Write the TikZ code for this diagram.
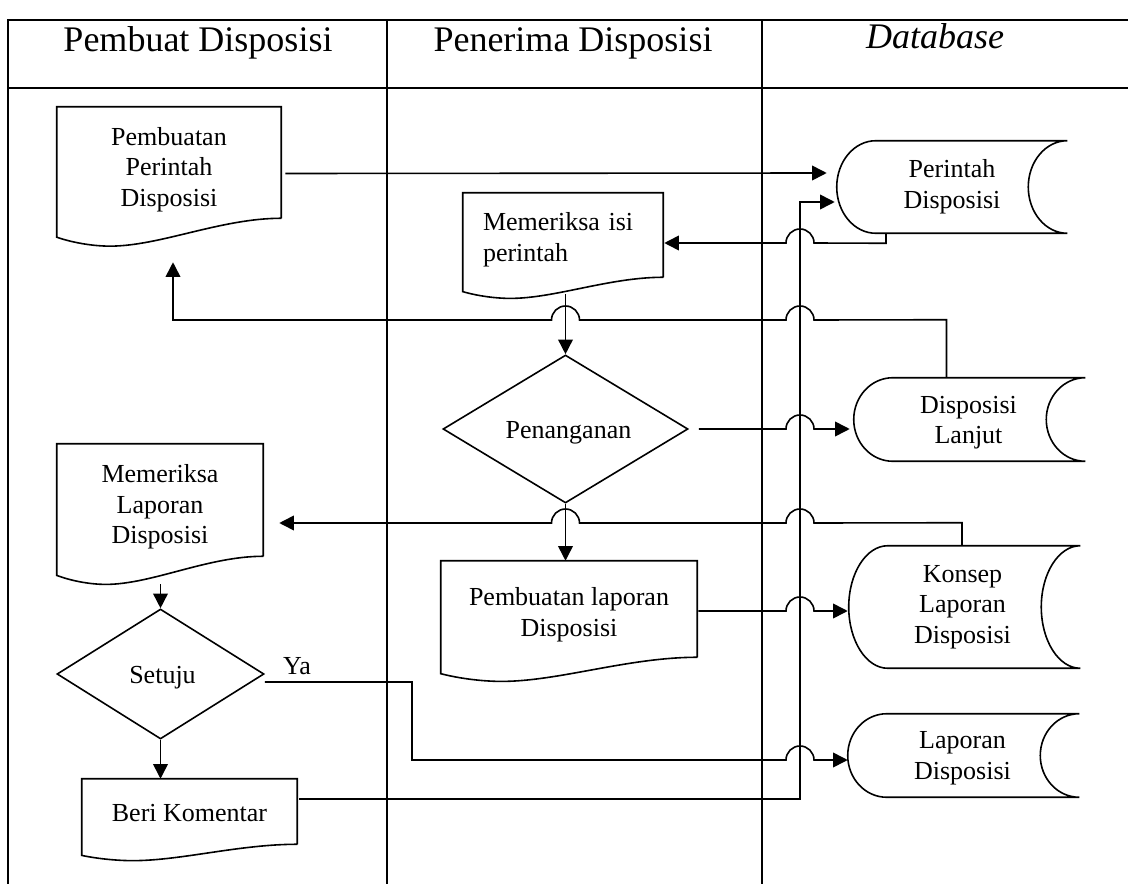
\documentclass[tikz,border=0pt]{standalone}
\usepackage{fontspec}
\setmainfont{Liberation Serif}
\usetikzlibrary{arrows.meta,calc,shapes.geometric}

\newcommand\bodyfont{\fontsize{19.5}{23}\selectfont}
\newcommand\headfont{\fontsize{27}{30}\selectfont}

% document symbol: flat top, wavy bottom hanging below the node box
\newcommand\docoutline[1]{%
  \draw[outline] let \p1=(#1.south west), \p2=(#1.north east),
      \n1={\x2-\x1}, \n2={\y2-\y1} in
    (\x2,\y1) -- (\x2,\y2) -- (\x1,\y2) -- (\x1,{\y1-0.17*\n2})
    .. controls ({\x1+0.08*\n1},{\y1-0.225*\n2}) and ({\x1+0.17*\n1},{\y1-0.25*\n2})
    .. ({\x1+0.237*\n1},{\y1-0.25*\n2})
    .. controls ({\x1+0.46*\n1},{\y1-0.25*\n2}) and ({\x1+0.73*\n1},\y1)
    .. (\x2,\y1);}

% stored-data symbol: convex left side, concave right side
\newcommand\storeoutline[1]{%
  \draw[outline] let \p1=(#1.south west), \p2=(#1.north east),
      \n1={(\y2-\y1)/2} in
    ({\x1+29.25pt},\y2) -- (\x2,\y2)
    arc[start angle=90,end angle=270,x radius=29.25pt,y radius={\n1*1pt}]
    -- ({\x1+29.25pt},\y1)
    arc[start angle=270,end angle=90,x radius=29.25pt,y radius={\n1*1pt}] -- cycle;}

\tikzset{
  lane/.style={line width=0.9pt},
  outline/.style={line width=1.2pt},
  conn/.style={line width=1.2pt,-{Triangle[length=11pt,width=11pt]}},
  dims/.style 2 args={minimum width=#1*0.75pt,minimum height=#2*0.75pt},
  head/.style={font=\headfont,inner sep=0pt},
  box/.style={inner sep=0pt},
  decision/.style={shape=diamond,draw,outline,inner sep=0pt,aspect=1.6},
  txt/.style={inner sep=0pt,align=center,font=\bodyfont},
}
\def\jr{10.5pt}

\begin{document}
\begin{tikzpicture}[x=0.75pt,y=-0.75pt]
\useasboundingbox (0,0) rectangle (1128,884);

% swimlanes
\draw[lane] (1128,20) -- (8,20) -- (8,884);
\draw[lane] (8,88) -- (1128,88);
\draw[lane] (387,20) -- (387,884);
\draw[lane] (762,20) -- (762,884);

\node[head] (h1) at (198,43) {Pembuat Disposisi};
\node[head] (h2) at (573,43) {Penerima Disposisi};
\node[head,font=\headfont\itshape] (h3) at (935,36) {Database};

% documents
\node[box,dims={224}{111}] (pp) at (169,162.5) {};
\node[box,dims={200}{84}] (mi) at (563,235) {};
\node[box,dims={206}{112}] (ml) at (160,500) {};
\node[box,dims={256}{96}] (pl) at (569,609) {};
\node[box,dims={215}{65}] (bk) at (189.5,811.5) {};
\docoutline{pp}
\docoutline{mi}
\docoutline{ml}
\docoutline{pl}
\docoutline{bk}
\node[txt] (pp-t) at ($(pp)+(0,7)$) {Pembuatan\\Perintah\\Disposisi};
\node[txt,align=left,text width=120pt] (mi-t) at ($(mi)+(0,5)$) {Memeriksa isi\\perintah};
\node[txt] (ml-t) at ($(ml)+(0,7)$) {Memeriksa\\Laporan\\Disposisi};
\node[txt] (pl-t) at ($(pl)+(0,6)$) {Pembuatan laporan\\Disposisi};
\node[txt] (bk-t) at ($(bk)+(0,2)$) {Beri Komentar};

% stored data
\node[box,dims={230}{92}] (pd) at (952,187) {};
\node[box,dims={231}{83}] (dl) at (969.5,419.5) {};
\node[box,dims={231}{122}] (kl) at (964.5,607) {};
\node[box,dims={231}{83}] (ld) at (963.5,755.5) {};
\storeoutline{pd}
\storeoutline{dl}
\storeoutline{kl}
\storeoutline{ld}
\node[txt] (pd-t) at ($(pd)+(0,0)$) {Perintah\\Disposisi};
\node[txt] (dl-t) at ($(dl)+(-1,3)$) {Disposisi\\Lanjut};
\node[txt] (kl-t) at ($(kl)+(-2,0)$) {Konsep\\Laporan\\Disposisi};
\node[txt] (ld-t) at ($(ld)+(-1,3)$) {Laporan\\Disposisi};

% decisions
\node[decision,dims={245}{148}] (pen) at (565.5,429) {};
\node[decision,dims={207}{130}] (st) at (160.5,674) {};
\node[txt] (pen-t) at ($(pen)+(3,4)$) {Penanganan};
\node[txt] (st-t) at ($(st)+(2,4)$) {Setuju};

% flows
\draw[conn] ($(pp.east)+(4,11)$) -- ($(pd.west)+(-10,-14)$);
\coordinate (kv) at (800,202);
\draw[conn] ($(bk.east)+(2,-12.5)$) -| (kv) -- ($(pd.west)+(-2,15)$);
\draw[conn] ($(pd.south)+(-66,0)$) -- ++(0,10) -- (814,243)
  arc[start angle=0,end angle=180,radius=\jr] -- ($(mi.east)+(1,8)$);
\draw[conn] ($(pen.north|-mi.south)+(0,17)$) -- (pen.north);
\draw[conn] ($(dl.north)+(-23,0)$) -- ++(0,-58) -- (814,320)
  arc[start angle=0,end angle=180,radius=\jr] -- (579.5,320)
  arc[start angle=0,end angle=180,radius=\jr] -- (173,320) -- ($(pp.south)+(4,44)$);
\draw[conn] ($(pen.east)+(10,0)$) -- (786,429)
  arc[start angle=180,end angle=0,radius=\jr] -- ($(dl.west)+(-4,9.5)$);
\draw[conn] (pen.south) -- (pen.south|-pl.north);
\draw[conn] ($(kl.north)+(-2.5,0)$) -- ++(0,-23) -- (814,523)
  arc[start angle=0,end angle=180,radius=\jr] -- (579.5,523)
  arc[start angle=0,end angle=180,radius=\jr] -- ($(ml.east)+(16,23)$);
\draw[conn] ($(pl.east)+(1,2)$) -- (786,611)
  arc[start angle=180,end angle=0,radius=\jr] -- ($(kl.west)+(-1,4)$);
\draw[conn] ($(st.north|-ml.south)+(0,28)$) -- (st.north);
\draw[conn] (st.south) -- (st.south|-bk.north);
\draw[conn] ($(st.east)+(0,8)$) -- (412,682) -- (412,760) -- (786,760)
  arc[start angle=180,end angle=0,radius=\jr] -- ($(ld.west)+(0,4.5)$);
\node[txt] (ya) at (297,666) {Ya};
\end{tikzpicture}
\end{document}
